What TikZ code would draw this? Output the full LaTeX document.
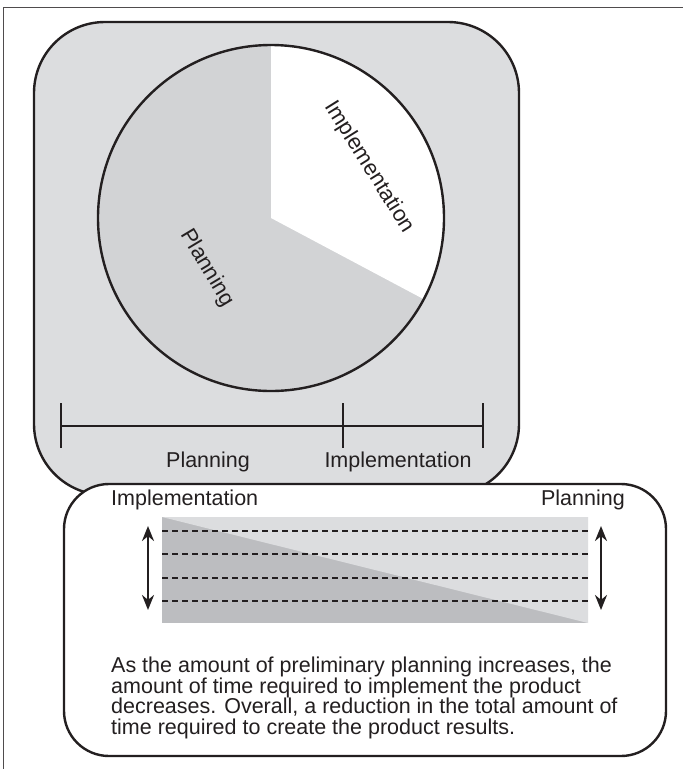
\documentclass[tikz,border=0pt]{standalone}
\usepackage{fontspec}
\setmainfont{Liberation Sans}
\usetikzlibrary{positioning,arrows.meta,calc}
\definecolor{Ink}{HTML}{231F20}
\definecolor{PanelGray}{HTML}{DCDDDF}
\definecolor{SliceGray}{HTML}{D2D3D5}
\definecolor{BarDark}{HTML}{BCBDC0}

\begin{document}
\begin{tikzpicture}[
  x=1pt, y=1pt,
  every node/.style={align=center, text=Ink},
  panel/.style={draw=Ink, line width=2.4pt},
  lbl/.style={font=\fontsize{21.5}{24}\selectfont, inner sep=0pt},
  tickline/.style={draw=Ink, line width=2.4pt},
  dashrow/.style={draw=Ink, line width=2.4pt, dash pattern=on 6pt off 4pt},
  arr/.style={{Stealth[length=15pt,width=12pt]}-{Stealth[length=15pt,width=12pt]}, line width=2.4pt, draw=Ink}
]
\useasboundingbox (0,0) rectangle (683,-769);

% Frame
\draw[line width=1.8pt, draw=Ink!80] (683,-7.5) -- (3.5,-7.5) -- (3.5,-769);

% Upper panel
\draw[panel, fill=PanelGray, rounded corners=71pt] (34,-22) rectangle (519,-495);

% Pie
\coordinate (hub) at (271,-218);
\fill[SliceGray] (hub) circle[radius=173];
\fill[white] (hub) -- ++(90:173) arc[start angle=90, end angle=-28, radius=173] -- cycle;
\draw[panel] (hub) circle[radius=173];
\node[lbl, font=\fontsize{22}{24}\selectfont, rotate=-58] (implSlice) at (369,-167) {Implementation};
\node[lbl, font=\fontsize{22}{24}\selectfont, rotate=-59] (planSlice) at (207,-268) {Planning};

% Timeline
\coordinate (tStart) at (61,-426);
\coordinate (tSplit) at (343,-426);
\coordinate (tEnd) at (483,-426);
\draw[tickline] (tStart) -- (tEnd);
\foreach \c in {tStart,tSplit,tEnd}
  \draw[tickline] ([yshift=23pt]\c) -- ([yshift=-22pt]\c);
\node[lbl] (planTime) at (208,-462) {Planning};
\node[lbl] (implTime) at (398,-462) {Implementation};

% Lower panel
\draw[panel, fill=white, rounded corners=45pt] (64,-484) rectangle (666,-756);
\node[lbl, anchor=west] (implHead) at (111,-500) {Implementation};
\node[lbl, anchor=east] (planHead) at (625,-500) {Planning};

% Bar
\coordinate (barNW) at (162,-517);
\coordinate (barSE) at (588,-623);
\fill[BarDark] (barNW) rectangle (barSE);
\fill[PanelGray] (barNW) -- (barNW -| barSE) -- (barSE) -- cycle;
\foreach \yy in {531,554,578,601}
  \draw[dashrow] (162,-\yy) -- (588,-\yy);

% Arrows
\coordinate (lTop) at (148,-526);
\coordinate (lBot) at (148,-610);
\coordinate (rTop) at (601,-526);
\coordinate (rBot) at (601,-610);
\draw[arr] (lTop) -- (lBot);
\draw[arr] (rTop) -- (rBot);

% Note
\node[anchor=north west, align=left, inner sep=0pt, font=\fontsize{21.5}{20.5}\selectfont] (note) at (111,-657) {As the amount of preliminary planning increases, the\\amount of time required to implement the product\\decreases. Overall, a reduction in the total amount of\\time required to create the product results.};
\end{tikzpicture}
\end{document}
